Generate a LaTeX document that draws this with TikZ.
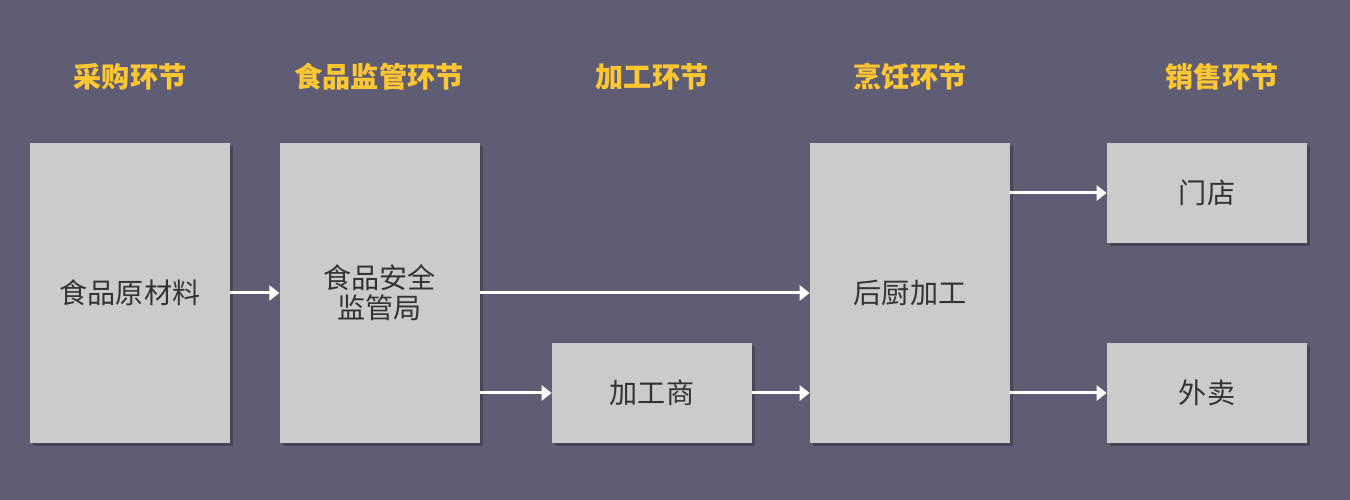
\documentclass[tikz,border=0pt]{standalone}
\usepackage{fontspec}
\setmainfont{Noto Sans CJK SC}
\usetikzlibrary{arrows.meta,positioning,shadows}
\definecolor{slate}{HTML}{5F5D74}
\definecolor{paper}{HTML}{CBCBCB}
\definecolor{ink}{HTML}{333333}
\definecolor{gold}{HTML}{FFC832}
\tikzset{
  stage/.style={rectangle,draw=none,fill=paper,align=center,inner sep=0pt,text=ink,font=\fontsize{16}{19}\selectfont,
    drop shadow={shadow xshift=0.06cm,shadow yshift=-0.06cm,opacity=0.25,fill=black}},
  tall/.style={stage,minimum width=4cm,minimum height=6cm},
  short/.style={stage,minimum width=4cm,minimum height=2cm},
  heading/.style={text=gold,font=\bfseries\fontsize{16}{19}\selectfont},
  flow/.style={-{Triangle[length=0.2cm,width=0.3cm]},line width=0.06cm,white}
}

\begin{document}
\begin{tikzpicture}
    \fill[slate] (0,0) rectangle (27,10);

    \node[tall] (raw) at (2.6,4.14) {食品原材料};
    \node[tall,right=0.98cm of raw] (super) {食品安全\\[-2pt]监管局};
    \node[short] (proc) at (13.04,2.14) {加工商};
    \node[tall] (kitchen) at (18.2,4.14) {后厨加工};
    \node[short] (store) at (24.14,6.14) {门店};
    \node[short] (takeout) at (24.14,2.14) {外卖};

    \node[heading] (h1) at (2.6,8.46) {采购环节};
    \node[heading] (h2) at (7.58,8.46) {食品监管环节};
    \node[heading] (h3) at (13.04,8.46) {加工环节};
    \node[heading] (h4) at (18.2,8.46) {烹饪环节};
    \node[heading] (h5) at (24.44,8.46) {销售环节};

    \draw[flow] (raw) -- (super);
    \draw[flow] (super) -- (kitchen);
    \draw[flow] (super.east |- proc) -- (proc.west);
    \draw[flow] (proc) -- (proc -| kitchen.west);
    \draw[flow] (kitchen.east |- store) -- (store.west);
    \draw[flow] (kitchen.east |- takeout) -- (takeout.west);
\end{tikzpicture}
\end{document}
